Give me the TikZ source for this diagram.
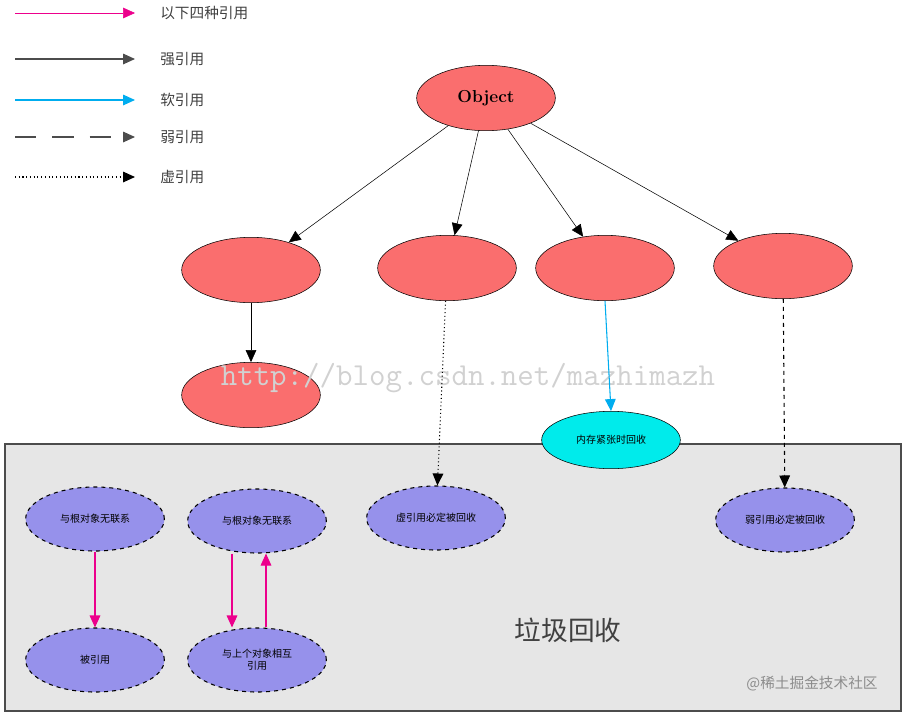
\documentclass[tikz,border=0pt]{standalone}
\usepackage{fontspec}
\newfontfamily\cjk{Noto Sans CJK SC}
\usetikzlibrary{arrows.meta,shapes.geometric}
\definecolor{redfill}{RGB}{250,110,110}
\definecolor{bluefill}{RGB}{150,145,235}
\definecolor{cyanfill}{RGB}{0,235,235}
\definecolor{boxfill}{RGB}{230,230,230}
\tikzset{
redball/.style={
  ellipse,
  draw,
  fill=redfill,
  minimum width=104pt,
  minimum height=49pt,
  inner sep=0pt,
},
blueball/.style={
  ellipse,
  draw,
  dashed,
  thick,
  fill=bluefill,
  minimum width=104pt,
  minimum height=48pt,
  inner sep=0pt,
  align=center,
  font=\cjk\fontsize{7.5}{9}\selectfont,
},
legend/.style={
  rectangle,
  draw=none,
  anchor=west,
  inner sep=0pt,
  font=\cjk\fontsize{11}{13}\selectfont,
  text=black!75,
},
ref/.style={-{Triangle[length=9pt,width=8pt]}},
lmag/.style={magenta},
lstrong/.style={black!70,thick},
lsoft/.style={cyan,thick},
lweak/.style={dash pattern=on 16pt off 12pt,black!70,thick},
lphantom/.style={dotted,thick},
}
\begin{document}
\begin{tikzpicture}[x=0.75pt, y=-0.75pt]
\useasboundingbox (0,0) rectangle (902,714);
%garbage box
\draw[fill=boxfill, thick, draw=black!70] (5,444) rectangle (901,711);

%nodes
\node[redball, font=\bfseries\fontsize{13}{15}\selectfont](obj) at (486,98){Object};
\node[redball](r1) at (251,270){};
\node[redball](r2) at (447,268){};
\node[redball](r3) at (605,268){};
\node[redball](r4) at (783,266){};
\node[redball](r5) at (251,395){};

\node[blueball](phantom) at (436,518){虚引用必定被回收};
\node[blueball](weak) at (785,520){弱引用必定被回收};
\node[blueball](free1) at (95,519){与根对象无联系};
\node[blueball](free2) at (257,521){与根对象无联系};
\node[blueball](held) at (95,660){被引用};
\node[blueball](mutual) at (257,660){与上个对象相互\\引用};
\node[ellipse, draw, fill=cyanfill, minimum width=104pt, minimum height=43pt, inner sep=0pt, font=\cjk\fontsize{7.5}{9}\selectfont](soft) at (611,440){内存紧张时回收};

\node[font=\cjk\fontsize{20}{24}\selectfont, text=black!75](gc) at (568,630){垃圾回收};
\node[font=\ttfamily\fontsize{24}{28}\selectfont, text=black!18](wm) at (468,378){http://blog.csdn.net/mazhimazh};
\node[font=\cjk\fontsize{11}{13}\selectfont, text=black!45](wm2) at (812,684){@稀土掘金技术社区};

%legend
\foreach \y/\txt/\sty in {13/以下四种引用/lmag, 59/强引用/lstrong, 100/软引用/lsoft, 137/弱引用/lweak, 177/虚引用/lphantom}{
  \coordinate (ls\y) at (15,\y);
  \coordinate (le\y) at (135,\y);
  \draw[ref, \sty] (ls\y) -- (le\y);
  \node[legend](lt\y) at (160,\y){\txt};
}

%edges
\draw[ref] (obj) -- (r1);
\draw[ref] (obj) -- (r2);
\draw[ref] (obj) -- (r3);
\draw[ref] (obj) -- (r4);
\draw[ref] (r1) -- (r5);
\draw[ref, dotted, thick] (r2) -- (phantom);
\draw[ref, cyan, thick] (r3.south) -- (soft.north);
\draw[ref, dashed, thick] (r4) -- (weak);

\coordinate (downx) at (232,0);
\coordinate (upx) at (266,0);
\draw[ref, magenta, thick] (free1) -- (held);
\draw[ref, magenta, thick] (free2.south -| downx) -- (mutual.north -| downx);
\draw[ref, magenta, thick] (mutual.north -| upx) -- (free2.south -| upx);
\end{tikzpicture}
\end{document}
